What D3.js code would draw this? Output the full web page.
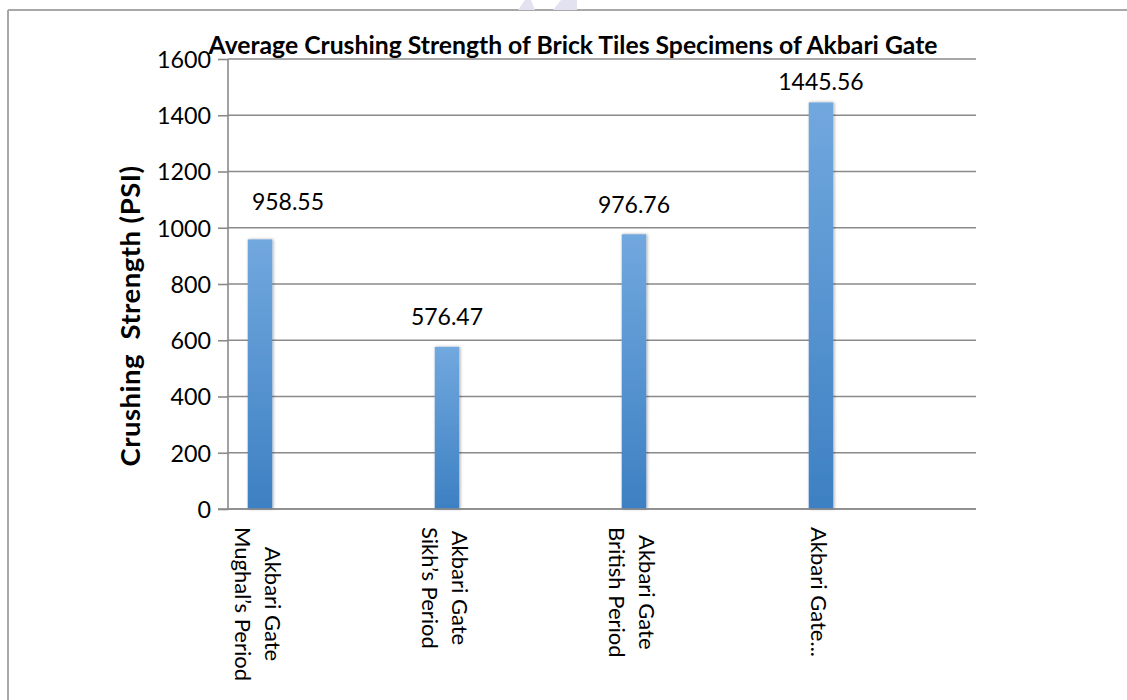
<!DOCTYPE html>
<html>
<head>
<meta charset="utf-8">
<script src="https://cdn.jsdelivr.net/npm/d3@7"></script>
<style>
  html, body { margin: 0; padding: 0; background: #fff; }
  svg { display: block; }
  text { font-family: Lato, "Open Sans", sans-serif; fill: #000; }
</style>
</head>
<body>
<svg id="chart" width="1127" height="700"></svg>
<script>
// Crushing strength (PSI) of brick tile specimens, by period
const categories = [
  ["Akbari Gate", "Mughal\u2019s Period"],
  ["Akbari Gate", "Sikh\u2019s Period"],
  ["Akbari Gate", "British Period"],
  ["Akbari Gate..."]
];
const strengths = [958.55, 576.47, 976.76, 1445.56];
const yTicks = [0, 200, 400, 600, 800, 1000, 1200, 1400, 1600];
const chartTitle = "Average Crushing Strength of Brick Tiles Specimens of Akbari Gate";
const yAxisTitle = "Crushing\u00a0 Strength (PSI)";

const svg = d3.select("#chart");
const plot = { left: 228, right: 976, top: 59, bottom: 509 };
const gridColor = "#8a8a8a";

// frame lines of the figure
svg.append("line").attr("x1", 8).attr("x2", 1127).attr("y1", 10).attr("y2", 10)
  .attr("stroke", "#a8a8a8").attr("stroke-width", 2);
svg.append("line").attr("x1", 8).attr("x2", 8).attr("y1", 10).attr("y2", 700)
  .attr("stroke", "#a8a8a8").attr("stroke-width", 2);

// faint page mark above the frame
svg.append("polygon").attr("points", "518,10 525,0 531,0 535,10").attr("fill", "#e2e2f0");
svg.append("polygon").attr("points", "553,10 561,0 577,0 577,10").attr("fill", "#e2e2f0");

const keys = categories.map((c, i) => i);
const x = d3.scaleBand().domain(keys).range([plot.left, plot.right]).padding(0);
const y = d3.scaleLinear().domain([0, 1600]).range([plot.bottom, plot.top]);

const barCenter = i => x(i) + x.bandwidth() * 0.171;
const barWidth = x.bandwidth() * 0.131;

// gradient + soft shadow for the columns
const defs = svg.append("defs");
const grad = defs.append("linearGradient").attr("id", "barFill")
  .attr("x1", 0).attr("y1", 0).attr("x2", 0).attr("y2", 1);
grad.append("stop").attr("offset", "0%").attr("stop-color", "#71a8de");
grad.append("stop").attr("offset", "100%").attr("stop-color", "#3d80c3");
const shadow = defs.append("filter").attr("id", "barShadow")
  .attr("x", "-50%").attr("y", "-5%").attr("width", "200%").attr("height", "110%");
shadow.append("feDropShadow").attr("dx", 1).attr("dy", 0).attr("stdDeviation", 1.6)
  .attr("flood-color", "#000").attr("flood-opacity", 0.35);

// horizontal gridlines with tick stubs
const yAxis = d3.axisLeft(y).tickValues(yTicks).tickSize(10).tickPadding(7)
  .tickFormat(d3.format("d"));
const gy = svg.append("g").attr("transform", `translate(${plot.left},0)`).call(yAxis);
gy.select(".domain").remove();
gy.selectAll(".tick line").attr("stroke", gridColor).attr("stroke-width", 1.6);
gy.selectAll(".tick text")
  .style("font-size", "23.3px").attr("fill", "#000").attr("dy", "0.36em");
svg.append("g").selectAll("line").data(yTicks).join("line")
  .attr("x1", plot.left).attr("x2", plot.right)
  .attr("y1", d => y(d)).attr("y2", d => y(d))
  .attr("stroke", gridColor).attr("stroke-width", 1.6);
// vertical axis line
svg.append("line").attr("x1", plot.left).attr("x2", plot.left)
  .attr("y1", y(1600)).attr("y2", y(0))
  .attr("stroke", gridColor).attr("stroke-width", 1.6);

// columns
svg.append("g").selectAll("rect").data(strengths).join("rect")
  .attr("x", (d, i) => barCenter(i) - barWidth / 2)
  .attr("width", barWidth)
  .attr("y", d => y(d))
  .attr("height", d => y(0) - y(d))
  .attr("fill", "url(#barFill)")
  .attr("filter", "url(#barShadow)");

// baseline drawn over the columns
svg.append("line").attr("x1", plot.left - 10).attr("x2", plot.right)
  .attr("y1", y(0)).attr("y2", y(0))
  .attr("stroke", gridColor).attr("stroke-width", 1.6);

// value labels (hand-nudged placement per column)
const labelNudge = [{ dx: 28, dy: -29 }, { dx: 0, dy: -22 }, { dx: 0, dy: -21 }, { dx: 0, dy: -12 }];
svg.append("g").selectAll("text").data(strengths).join("text")
  .attr("x", (d, i) => barCenter(i) + labelNudge[i].dx)
  .attr("y", (d, i) => y(d) + labelNudge[i].dy)
  .attr("text-anchor", "middle")
  .style("font-size", "23px")
  .text(d => d.toFixed(2));

// rotated category labels, lines centred on each other, block hung from the axis
const lineStep = 30;
const labelTop = 527;
categories.forEach((lines, i) => {
  const g = svg.append("g")
    .attr("transform", `translate(${barCenter(i)},${labelTop}) rotate(90)`);
  const texts = lines.map((ln, j) => g.append("text")
    .style("font-size", "22px")
    .attr("text-anchor", "middle")
    .attr("y", 10 - (lineStep / 2) * (lines.length - 1) + lineStep * j)
    .text(ln));
  const maxLen = d3.max(texts, t => t.node().getComputedTextLength());
  texts.forEach(t => t.attr("x", maxLen / 2));
});

// size a bold heading so that it spans the given length
function fitText(sel, span) {
  const base = 24;
  sel.style("font-size", base + "px");
  const len = sel.node().getComputedTextLength();
  sel.style("font-size", (base * span / len) + "px");
  return sel;
}

// chart title
fitText(svg.append("text")
  .attr("x", 573).attr("y", 54)
  .attr("text-anchor", "middle")
  .style("font-weight", "bold")
  .text(chartTitle), 729);

// y-axis title
svg.append("text")
  .attr("transform", "translate(140,316) rotate(-90)")
  .attr("text-anchor", "middle")
  .style("font-weight", "bold")
  .style("font-size", "27.5px")
  .style("letter-spacing", "0.5px")
  .text(yAxisTitle);
</script>
</body>
</html>
